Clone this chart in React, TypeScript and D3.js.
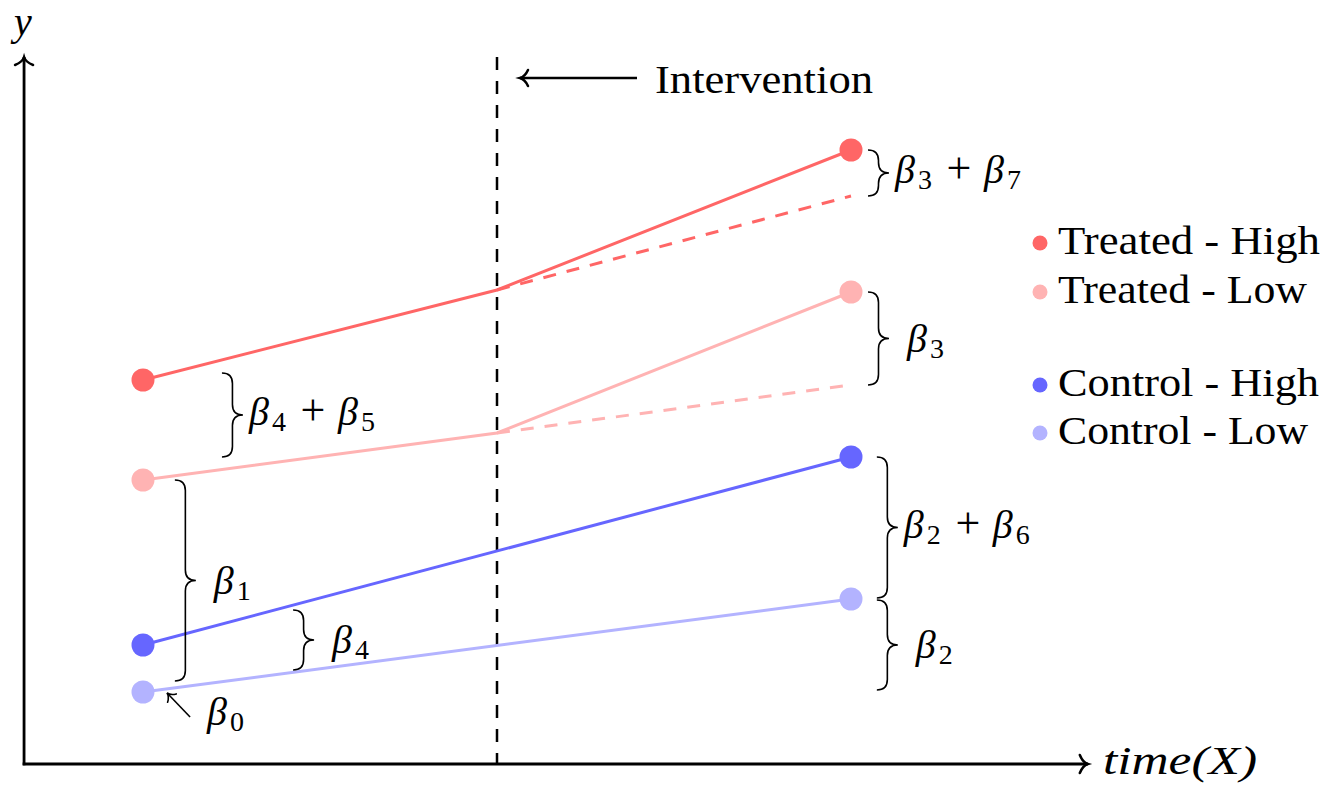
import React from "react";
import * as d3 from "d3";

// ---------------- data ----------------
// time: 0 = pre period, 1 = intervention, 2 = post period
const treatedTimes = [0, 1, 2];
const controlTimes = [0, 2];
const counterfactualTimes = [1, 2];
const interventionTime = 1;

const seriesLabels = ["Treated - High", "Treated - Low", "Control - High", "Control - Low"];
const seriesColors = ["#ff6666", "#ffb3b3", "#6666ff", "#b3b3ff"];

const treatedHigh = [384, 474, 614];
const treatedLow = [284, 331, 472];
const controlHigh = [119, 307];
const controlLow = [72, 165];
const treatedHighCF = [474, 568];
const treatedLowCF = [331, 379];

// braces (coefficient annotations)
const braceSubs = [["3", "7"], ["3"], ["4", "5"], ["1"], ["4"], ["2", "6"], ["2"]];
const braceTimes = [2.048, 2.048, 0.223, 0.09, 0.424, 2.073, 2.073];
const braceFrom = [614, 472, 391, 284, 154, 307, 164];
const braceTo = [568, 379, 307, 83, 94, 166, 74];

// beta_0 pointer: [tail, tip] in (time, value)
const beta0Arrow = [[0.133, 47], [0.068, 71]];

// axis extents
const axisTimeMin = -0.336;
const axisTimeMax = 2.669;
const axisValueMax = 707;

// ---------------- layout ----------------
const W = 1337;
const H = 799;
const FONT = '"Liberation Serif"';
const x = d3.scaleLinear().domain([0, 2]).range([143, 851]);
const y = d3.scaleLinear().domain([0, 700]).range([764, 64]);

const legendYs = [243, 292, 385, 433];
const legendBaselines = [254, 303, 396, 444];
const legendWidths = [262, 249, 261, 250];

function arrowHead(tx: number, ty: number, angleDeg: number, L: number, w: number) {
  const p = `M ${-L} ${w} C ${-0.75 * L} ${0.45 * w} ${-0.3 * L} ${0.08 * w} 0 0 C ${-0.3 * L} ${-0.08 * w} ${-0.75 * L} ${-0.45 * w} ${-L} ${-w}`;
  return { d: p, transform: `translate(${tx},${ty}) rotate(${angleDeg})` };
}

function bracePath(bx: number, y1: number, y2: number, a: number) {
  const top = Math.min(y1, y2);
  const bot = Math.max(y1, y2);
  const ym = (top + bot) / 2;
  const h = a / 2;
  return [
    `M ${bx} ${top}`,
    `Q ${bx + h} ${top} ${bx + h} ${top + h}`,
    `L ${bx + h} ${ym - h}`,
    `Q ${bx + h} ${ym} ${bx + a} ${ym}`,
    `Q ${bx + h} ${ym} ${bx + h} ${ym + h}`,
    `L ${bx + h} ${bot - h}`,
    `Q ${bx + h} ${bot} ${bx} ${bot}`,
  ].join(" ");
}

const fs = { fontFamily: FONT };

function MathLabel({ x0, base, subs }: { x0: number; base: number; subs: string[] }) {
  const big = 40;
  const small = 28;
  return (
    <g>
      <text x={x0} y={base} fontSize={big} fontStyle="italic" style={fs}>β</text>
      <text x={x0 + 23} y={base + 6} fontSize={small} style={fs}>{subs[0]}</text>
      {subs.length > 1 && (
        <>
          <text x={x0 + 64} y={base} fontSize={44} textAnchor="middle" style={fs}>+</text>
          <text x={x0 + 89} y={base} fontSize={big} fontStyle="italic" style={fs}>β</text>
          <text x={x0 + 112} y={base + 6} fontSize={small} style={fs}>{subs[1]}</text>
        </>
      )}
    </g>
  );
}

export default function App() {
  const line = d3.line<[number, number]>().x((d) => x(d[0])).y((d) => y(d[1]));
  const zip = (ts: number[], vs: number[]) => ts.map((t, i) => [t, vs[i]] as [number, number]);

  const solid = [
    zip(treatedTimes, treatedHigh),
    zip(treatedTimes, treatedLow),
    zip(controlTimes, controlHigh),
    zip(controlTimes, controlLow),
  ];
  const dashed = [zip(counterfactualTimes, treatedHighCF), zip(counterfactualTimes, treatedLowCF)];

  const x0 = x(axisTimeMin);
  const x1 = x(axisTimeMax);
  const y0 = y(0);
  const yTop = y(axisValueMax);
  const xi = x(interventionTime);

  const yArrow = arrowHead(x0, yTop, -90, 8, 9);
  const xArrow = arrowHead(x1, y0, 0, 8, 9);
  const ivTipX = xi + 23;
  const ivY = 78;
  const ivArrow = arrowHead(ivTipX, ivY, 180, 8, 8);

  const b0tail = [x(beta0Arrow[0][0]), y(beta0Arrow[0][1])];
  const b0tip = [x(beta0Arrow[1][0]), y(beta0Arrow[1][1])];
  const b0ang = (Math.atan2(b0tip[1] - b0tail[1], b0tip[0] - b0tail[0]) * 180) / Math.PI;
  const b0Head = arrowHead(b0tip[0], b0tip[1], b0ang, 7, 6);

  return (
    <svg
      width={W}
      height={H}
      style={{ position: "absolute", left: 0, top: 0, display: "block", background: "#fff", fontFamily: FONT }}
    >
      {/* intervention dashed line */}
      <line x1={xi} x2={xi} y1={yTop} y2={y0} stroke="#000" strokeWidth={2.5} strokeDasharray="13 11" />

      {/* axes */}
      <line x1={x0} x2={x0} y1={y0 + 1.25} y2={yTop} stroke="#000" strokeWidth={2.8} />
      <line x1={x0 - 1.4} x2={x1} y1={y0} y2={y0} stroke="#000" strokeWidth={2.8} />
      <path d={yArrow.d} transform={yArrow.transform} fill="none" stroke="#000" strokeWidth={2.5} strokeLinecap="round" />
      <path d={xArrow.d} transform={xArrow.transform} fill="none" stroke="#000" strokeWidth={2.5} strokeLinecap="round" />
      <text x={14} y={35} fontSize={40} fontStyle="italic" style={fs}>y</text>
      <text x={1103} y={774} fontSize={40} fontStyle="italic" textLength={154} lengthAdjust="spacingAndGlyphs" style={fs}>
        time(X)
      </text>

      {/* intervention label */}
      <line x1={637} x2={ivTipX} y1={ivY} y2={ivY} stroke="#000" strokeWidth={2.5} />
      <path d={ivArrow.d} transform={ivArrow.transform} fill="none" stroke="#000" strokeWidth={2.5} strokeLinecap="round" />
      <text x={655} y={93} fontSize={40} textLength={218} lengthAdjust="spacingAndGlyphs" style={fs}>
        Intervention
      </text>

      {/* counterfactual dashed lines */}
      {dashed.map((pts, i) => (
        <path key={"d" + i} d={line(pts) || ""} fill="none" stroke={seriesColors[i]} strokeWidth={3} strokeDasharray="13 11" />
      ))}

      {/* solid lines */}
      {solid.map((pts, i) => (
        <path key={"s" + i} d={line(pts) || ""} fill="none" stroke={seriesColors[i]} strokeWidth={3} />
      ))}

      {/* end points */}
      {solid.map((pts, i) => (
        <g key={"p" + i}>
          <circle cx={x(pts[0][0])} cy={y(pts[0][1])} r={11.5} fill={seriesColors[i]} />
          <circle cx={x(pts[pts.length - 1][0])} cy={y(pts[pts.length - 1][1])} r={11.5} fill={seriesColors[i]} />
        </g>
      ))}

      {/* braces */}
      {braceSubs.map((subs, i) => {
        const bx = x(braceTimes[i]);
        const a = 21;
        const tipY = (y(braceFrom[i]) + y(braceTo[i])) / 2;
        const gap = subs.length > 1 ? 6 : 18;
        const dy = subs.length > 1 ? 10 : 13;
        return (
          <g key={"b" + i}>
            <path d={bracePath(bx, y(braceFrom[i]), y(braceTo[i]), a)} fill="none" stroke="#000" strokeWidth={1.6} />
            <MathLabel x0={bx + a + gap} base={tipY + dy} subs={subs} />
          </g>
        );
      })}

      {/* beta_0 pointer */}
      <line x1={b0tail[0]} y1={b0tail[1]} x2={b0tip[0]} y2={b0tip[1]} stroke="#000" strokeWidth={1.6} />
      <path d={b0Head.d} transform={b0Head.transform} fill="none" stroke="#000" strokeWidth={1.6} strokeLinecap="round" />
      <MathLabel x0={b0tail[0] + 17} base={b0tail[1] + 8} subs={["0"]} />

      {/* legend */}
      {seriesLabels.map((lab, i) => (
        <g key={"l" + i}>
          <circle cx={1040} cy={legendYs[i]} r={7.5} fill={seriesColors[i]} />
          <text x={1058} y={legendBaselines[i]} fontSize={40} textLength={legendWidths[i]} lengthAdjust="spacingAndGlyphs" style={fs}>
            {lab}
          </text>
        </g>
      ))}
    </svg>
  );
}
